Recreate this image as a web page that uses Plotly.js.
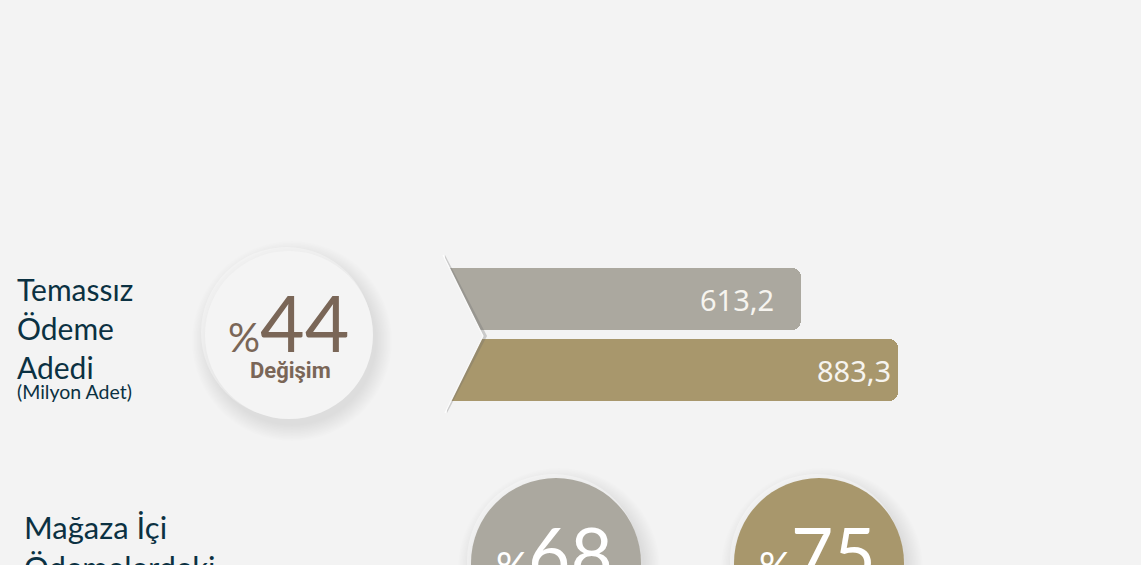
<!DOCTYPE html>
<html><head><meta charset="utf-8">
<script src="https://cdn.plot.ly/plotly-3.0.1.min.js"></script>
<style>html,body{margin:0;padding:0;background:#f3f3f3;}</style>
</head><body>
<div id="chart" style="width:1141px;height:565px;"></div>
<script>
// ---- data ----
const barCategories = ["Önceki dönem", "Sonraki dönem"];
const barValues = [613.2, 883.3];
const changeTitle = ["Temassız", "Ödeme", "Adedi"];
const changeSubtitle = "(Milyon Adet)";
const changePercent = 44;
const changeLabel = "Değişim";
const shareTitle = ["Mağaza İçi", "Ödemelerdeki"];
const sharePercents = [68, 75];

// ---- styling ----
const W = 1141, H = 565;
const BG = "#f3f3f3";
const barColors = ["#aba89f", "#a8976c"];
const darkText = "#0b3142";
const brown = "#7a6657";
const BASE = -392;
const px = x => x / W;
const py = y => 1 - y / H;
const fmt = v => v.toFixed(1).replace(".", ",");

const trace = {
  type: "bar", orientation: "h",
  y: [1, 0],
  x: barValues.map(v => v - BASE),
  base: BASE,
  width: 0.873,
  marker: {color: barColors, cornerradius: 9, line: {width: 0}},
  text: barCategories, textposition: "none",
  hoverinfo: "skip"
};

function circleWithShadow(cx, cy, r, fill) {
  const out = [];
  // soft outer glow / shadow
  for (let g = 16; g >= 1; g -= 1.5) {
    out.push({type:"circle", xref:"paper", yref:"paper", layer:"below",
      x0:px(cx-r-g+3), x1:px(cx+r+g+3), y0:py(cy+r+g+6), y1:py(cy-r-g+6),
      fillcolor:"rgba(0,0,0,0.009)", line:{width:0}});
  }
  // top-left highlight
  out.push({type:"circle", xref:"paper", yref:"paper", layer:"below",
    x0:px(cx-r-4), x1:px(cx+r-1), y0:py(cy+r-1), y1:py(cy-r-4),
    fillcolor:"rgba(255,255,255,0.35)", line:{width:0}});
  out.push({type:"circle", xref:"paper", yref:"paper", layer:"below",
    x0:px(cx-r), x1:px(cx+r), y0:py(cy+r), y1:py(cy-r),
    fillcolor:fill, line:{width:0}});
  return out;
}

const shapes = [
  ...circleWithShadow(289, 335, 84, "#f4f4f4"),
  ...circleWithShadow(556, 563, 85, barColors[0]),
  ...circleWithShadow(819, 563, 85, barColors[1]),
  // notch shadow
  {type:"path", xref:"paper", yref:"paper", layer:"above",
   path:`M ${px(445)} ${py(255)} L ${px(487)} ${py(336)} L ${px(447)} ${py(413)} Z`,
   fillcolor:"rgba(110,110,110,0.3)", line:{width:0}},
  // notch cut-out
  {type:"path", xref:"paper", yref:"paper", layer:"above",
   path:`M ${px(440)} ${py(252)} L ${px(443)} ${py(255)} L ${px(483)} ${py(336)} L ${px(445)} ${py(413)} L ${px(440)} ${py(416)} Z`,
   fillcolor:BG, line:{width:0}},
  {type:"path", xref:"paper", yref:"paper", layer:"above",
   path:`M ${px(443)} ${py(255)} L ${px(483)} ${py(336)} L ${px(445)} ${py(413)}`,
   line:{color:"rgba(255,255,255,0.9)", width:1.2}}
];

const annotations = [
  {xref:"paper", yref:"paper", x:px(15), y:py(328), xanchor:"left", yanchor:"middle", align:"left",
   text: changeTitle.join("<br>"), showarrow:false,
   font:{family:"Lato", size:30, color:darkText}},
  {xref:"paper", yref:"paper", x:px(15), y:py(391), xanchor:"left", yanchor:"middle",
   text: changeSubtitle, showarrow:false,
   font:{family:"Lato", size:19.5, color:darkText}},
  {xref:"paper", yref:"paper", x:px(288), y:py(322), xanchor:"center", yanchor:"middle",
   text: `<span style="font-size:40px">%</span>${changePercent}`, showarrow:false,
   font:{family:"Lato", size:77, color:brown}},
  {xref:"paper", yref:"paper", x:px(290), y:py(370), xanchor:"center", yanchor:"middle",
   text: `<b>${changeLabel}</b>`, showarrow:false,
   font:{family:"Roboto", size:22, color:brown}},
  {xref:"paper", yref:"paper", x:px(22), y:py(547), xanchor:"left", yanchor:"middle", align:"left",
   text: shareTitle.join("<br>"), showarrow:false,
   font:{family:"Lato", size:31, color:darkText}},
  ...sharePercents.map((p, i) => ({xref:"paper", yref:"paper", x:px([554, 817][i]), y:py(553),
   xanchor:"center", yanchor:"middle",
   text: `<span style="font-size:40px">%</span>${p}`, showarrow:false,
   font:{family:"Lato", size:73, color:"#ffffff"}})),
  ...barValues.map((v, i) => ({xref:"x", yref:"y", x:v, y:[1,0][i],
   xanchor:"right", yanchor:"middle", xshift:[-25, -5][i],
   text: fmt(v), showarrow:false,
   font:{family:"Noto Sans", size:29, color:"#f6f4ef"}}))
];

const layout = {
  width: W, height: H,
  margin: {l:0, r:0, t:0, b:0},
  paper_bgcolor: BG, plot_bgcolor: "rgba(0,0,0,0)",
  showlegend: false,
  xaxis: {range:[-1617.4, 1560.0], visible:false, fixedrange:true},
  yaxis: {range:[-2.746, 5.211], visible:false, fixedrange:true},
  shapes, annotations,
  bargap: 0
};
Plotly.newPlot("chart", [trace], layout, {displayModeBar:false, staticPlot:true});
</script>
</body></html>
